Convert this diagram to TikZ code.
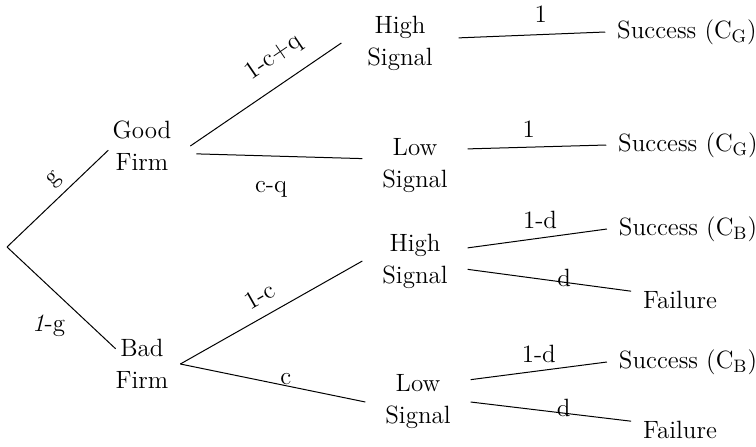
\documentclass[tikz,border=0pt]{standalone}
\begin{document}
\begin{tikzpicture}[x=0.5pt, y=-0.5pt, line width=0.5pt,
    every node/.style={font=\fontsize{12.5}{16}\selectfont},
    firm/.style={align=center, inner sep=0pt, outer sep=0pt},
    signal/.style={align=center, inner sep=0pt, outer xsep=10pt, outer ysep=0pt},
    outcome/.style={inner sep=0pt, outer xsep=6pt, outer ysep=0pt}]
  \useasboundingbox (0,0) rectangle (756,446);

  \coordinate (root) at (7,247);
  \node[firm] (good) at (142,146) {Good\\Firm};
  \node[firm] (bad) at (142,364) {Bad\\Firm};

  \node[signal, outer xsep=13pt] (gh) at (400,43) {High\\Signal};
  \node[signal] (gl) at (415,166) {Low\\Signal};
  \node[signal] (bh) at (415,261) {High\\Signal};
  \node[signal] (bl) at (418,402) {Low\\Signal};

  \node[outcome] (ghs) at (687,32) {Success (C$_\mathrm{G}$)};
  \node[outcome] (gls) at (688,145) {Success (C$_\mathrm{G}$)};
  \node[outcome] (bhs) at (688,229) {Success (C$_\mathrm{B}$)};
  \node[outcome] (bhf) at (680,300) {Failure};
  \node[outcome] (bls) at (688,362) {Success (C$_\mathrm{B}$)};
  \node[outcome] (blf) at (680,430) {Failure};

  \draw[shorten >=3pt] (root) -- (good.west) node[pos=0.55, above, sloped] {g};
  \draw (root) -- (bad.150) node[pos=0.6, below left] {\textit{1}-g};

  \draw ([xshift=9.5pt]good.east) -- (gh.west) node[pos=0.65, above=4pt, sloped] {1-c+q};
  \draw ([xshift=12.5pt]good.-15) -- (gl.172) node[pos=0.45, below=9pt] {c-q};
  \draw ([xshift=6pt]bad.east) -- (bh.west) node[pos=0.49, above=2.3pt, sloped] {1-c};
  \draw ([xshift=6pt]bad.east) -- (bl.west) node[pos=0.57, above, inner sep=0pt] {c};

  \draw (gh.5) -- (ghs.west) node[pos=0.56, above=2.3pt] {1};
  \draw (gl.18) -- (gls.west) node[pos=0.44, above=1.5pt] {1};
  \draw (bh.14) -- (bhs.west) node[pos=0.52, above=1pt] {1-d};
  \draw (bh.-9) -- (bhf.north west) node[pos=0.59, above=-2.5pt, inner sep=0pt] {d};
  \draw (bl.23) -- (bls.west) node[pos=0.5, above=0.5pt] {1-d};
  \draw (bl.east) -- (blf.north west) node[pos=0.58, above=-2pt, inner sep=0pt] {d};
\end{tikzpicture}
\end{document}
